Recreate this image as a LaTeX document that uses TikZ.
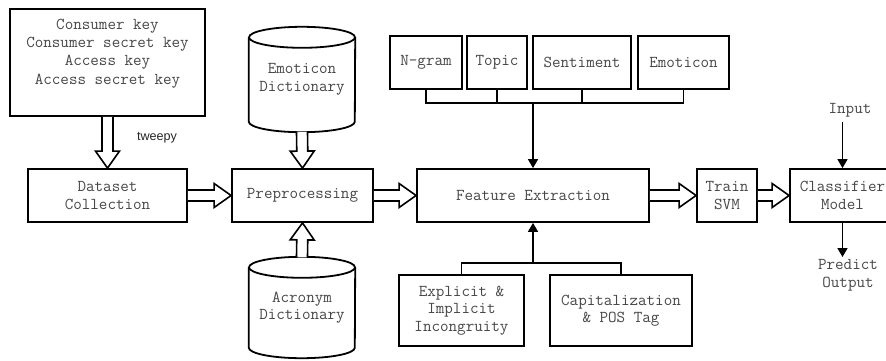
\documentclass[tikz,border=0pt]{standalone}
\usepackage{fontspec}
\newfontfamily\labelsans{Liberation Sans}
\usetikzlibrary{calc,arrows.meta}

% hollow block arrow from #1 to #2 (shaft half width 5.5pt, head half width 12pt)
\newcommand\blockarrow[2]{%
  \path (#2) coordinate (ba-tip) ($(#2)!17pt!(#1)$) coordinate (ba-neck);
  \draw[blockarr] ($(#1)!5.5pt!90:(ba-tip)$) -- ($(ba-neck)!5.5pt!-90:(#1)$)
    -- ($(ba-neck)!12pt!-90:(#1)$) -- (ba-tip) -- ($(ba-neck)!12pt!90:(#1)$)
    -- ($(ba-neck)!5.5pt!90:(#1)$) -- ($(#1)!5.5pt!-90:(ba-tip)$);
}

\tikzset{
  box/.style={draw=black, line width=1.8pt, inner sep=0pt, align=center,
    font=\ttfamily\fontsize{16.6}{17.5}\selectfont, text=black!72},
  txt/.style={inner sep=0pt, align=center,
    font=\ttfamily\fontsize{16.6}{17.5}\selectfont, text=black!72},
  blockarr/.style={draw=black, line width=1.6pt, fill=white, line join=miter},
  link/.style={draw=black, line width=1.5pt},
  linkarr/.style={link, -{Triangle[length=9pt,width=10pt]}},
  drum/.style={draw=black, line width=1.8pt}
}

\begin{document}
\begin{tikzpicture}[x=1pt,y=-1pt]
\clip (0,0) rectangle (886,361);
\fill[white] (0,0) rectangle (886,361);

% credentials and data collection
\node[box, minimum width=195pt, minimum height=107pt] (keys) at (107.5,62.5) {};
\node[txt, font=\ttfamily\fontsize{16.6}{18.3}\selectfont] (keystext) at (107.5,53.5)
  {Consumer key\\Consumer secret key\\Access key\\Access secret key};
\node[box, minimum width=159pt, minimum height=53pt] (data) at (107.5,195.5) {Dataset\\Collection};
\node[inner sep=0pt, font=\labelsans\fontsize{12.6}{14}\selectfont, text=black!85] (tweepy) at (157,138) {tweepy};

% preprocessing and the two dictionaries
\node[box, minimum width=141pt, minimum height=53pt] (pre) at (302.5,195.5) {Preprocessing};
\node[txt, minimum width=106pt, minimum height=105pt] (emodict) at (302,79.5) {Emoticon\\Dictionary};
\node[txt, minimum width=106pt, minimum height=101pt] (acrdict) at (302,307.5) {Acronym\\Dictionary};
\foreach \d in {emodict,acrdict}{
  \draw[drum] ($(\d.north)+(0,10.5)$) ellipse (53pt and 10.5pt);
  \draw[drum] ($(\d.north west)+(0,10.5)$) -- ($(\d.south west)+(0,-10.5)$)
    arc (180:360:53pt and 10.5pt) -- ($(\d.north east)+(0,10.5)$);
}

% feature extraction with its feature groups
\node[box, minimum width=232pt, minimum height=53pt] (feat) at (533,195.5) {Feature Extraction};
\node[box, minimum width=72pt, minimum height=53pt] (ngram) at (426,62.5) {N-gram};
\node[box, minimum width=60pt, minimum height=53pt] (topic) at (497,62.5) {Topic};
\node[box, minimum width=98pt, minimum height=53pt] (sent) at (582,62.5) {Sentiment};
\node[box, minimum width=91pt, minimum height=53pt] (emot) at (683.5,62.5) {Emoticon};
\node[box, minimum width=125pt, minimum height=71pt] (expl) at (461.5,310.5) {Explicit \&\\Implicit\\Incongruity};
\node[box, minimum width=142pt, minimum height=71pt] (cap) at (621,310.5) {Capitalization\\\& POS Tag};

% training and classification
\node[box, minimum width=60pt, minimum height=53pt] (train) at (727,195.5) {Train\\SVM};
\node[box, minimum width=105pt, minimum height=53pt] (clf) at (842.5,195.5) {Classifier\\Model};
\node[txt] (input) at (850,110) {Input};
\node[txt] (predict) at (848,275.5) {Predict\\Output};

% block arrows of the main flow
\blockarrow{keys.south}{data.north}
\blockarrow{data.east}{pre.west}
\blockarrow{emodict.south}{pre.north}
\blockarrow{acrdict.north}{pre.south}
\blockarrow{pre.east}{feat.west}
\blockarrow{feat.east}{train.west}
\blockarrow{train.east}{clf.west}

% feature buses
\coordinate (topbus) at ($(feat.north)+(0,-65)$);
\draw[link] (ngram.south) |- (topbus) -| (emot.south);
\draw[link] (topic.south) -- (topic.south |- topbus);
\draw[link] (sent.south) -- (sent.south |- topbus);
\draw[linkarr] (topbus) -- (feat.north);

\coordinate (botbus) at ($(feat.south)+(0,40)$);
\draw[link] (expl.north) |- (botbus) -| (cap.north);
\draw[linkarr] (botbus) -- (feat.south);

% classifier input and output
\coordinate (inbeg) at (842.5,122);
\coordinate (outend) at (842.5,257);
\draw[linkarr] (inbeg) -- (clf.north);
\draw[linkarr] (clf.south) -- (outend);
\end{tikzpicture}
\end{document}
